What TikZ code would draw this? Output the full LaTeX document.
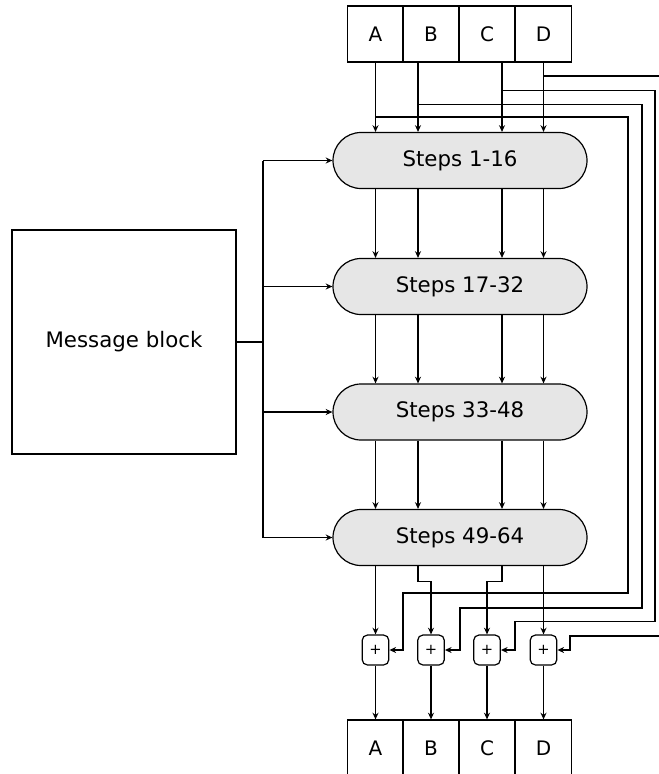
\documentclass[tikz,border=0pt]{standalone}
\usepackage{fontspec}
\setmainfont{DejaVu Sans}
\usepackage{xcolor}
\usepackage{tikz}
\usetikzlibrary{arrows}
\usetikzlibrary{arrows.meta}
\usetikzlibrary{positioning}
\usetikzlibrary{calc}

\definecolor{stepgray}{RGB}{230,230,230}

\tikzset{
  reg/.style={draw, line width=0.9pt, minimum width=42pt, minimum height=42pt, inner sep=0pt, font=\fontsize{15}{18}\selectfont},
  stepsbox/.style={draw, line width=0.9pt, fill=stepgray, rounded corners=21pt, minimum width=190.5pt, minimum height=42pt, font=\fontsize{16}{19}\selectfont},
  adder/.style={draw, line width=0.9pt, rounded corners=4pt, minimum width=20pt, minimum height=22.5pt, inner sep=0pt, font=\fontsize{11}{13}\selectfont},
  wire/.style={line width=0.9pt, -{Stealth[length=5pt,width=4.5pt]}},
}

\begin{document}
\begin{tikzpicture}[x=0.75pt, y=-0.75pt]
          \useasboundingbox (0,0) rectangle (658,774);

          % registers in
          \node[reg] (topA) at (375.5,34) {A};
          \node[reg] (topB) at (431,34) {B};
          \node[reg] (topC) at (487,34) {C};
          \node[reg] (topD) at (543.5,34) {D};

          % the four rounds
          \node[stepsbox] (s1) at (460,160.5) {Steps 1-16};
          \node[stepsbox] (s2) at (460,286.5) {Steps 17-32};
          \node[stepsbox] (s3) at (460,412) {Steps 33-48};
          \node[stepsbox] (s4) at (460,537.5) {Steps 49-64};

          \node[draw, line width=0.9pt, minimum width=168pt, minimum height=168pt, font=\fontsize{16}{19}\selectfont] (msg) at (124,342) {Message block};

          % adders
          \node[adder] (plusA) at (375.5,650) {+};
          \node[adder] (plusB) at (431,650) {+};
          \node[adder] (plusC) at (487,650) {+};
          \node[adder] (plusD) at (543.5,650) {+};

          % registers out
          \node[reg] (outA) at (375.5,748) {A};
          \node[reg] (outB) at (431,748) {B};
          \node[reg] (outC) at (487,748) {C};
          \node[reg] (outD) at (543.5,748) {D};

          \coordinate (colA) at (375.5,0);
          \coordinate (colB) at (418,0);
          \coordinate (colC) at (502,0);
          \coordinate (colD) at (543.5,0);

          % into the first round
          \draw[wire] (topA.south -| colA) -- (s1.north -| colA);
          \draw[wire] (topB.south -| colB) -- (s1.north -| colB);
          \draw[wire] (topC.south -| colC) -- (s1.north -| colC);
          \draw[wire] (topD.south -| colD) -- (s1.north -| colD);

          % round to round
          \draw[wire] (s1.south -| colA) -- (s2.north -| colA);
          \draw[wire] (s1.south -| colB) -- (s2.north -| colB);
          \draw[wire] (s1.south -| colC) -- (s2.north -| colC);
          \draw[wire] (s1.south -| colD) -- (s2.north -| colD);

          \draw[wire] (s2.south -| colA) -- (s3.north -| colA);
          \draw[wire] (s2.south -| colB) -- (s3.north -| colB);
          \draw[wire] (s2.south -| colC) -- (s3.north -| colC);
          \draw[wire] (s2.south -| colD) -- (s3.north -| colD);

          \draw[wire] (s3.south -| colA) -- (s4.north -| colA);
          \draw[wire] (s3.south -| colB) -- (s4.north -| colB);
          \draw[wire] (s3.south -| colC) -- (s4.north -| colC);
          \draw[wire] (s3.south -| colD) -- (s4.north -| colD);

          % last round to adders
          \draw[wire] (s4.south -| colA) -- (plusA);
          \draw[wire] (s4.south -| colB) -- ++(0,15) -| (plusB);
          \draw[wire] (s4.south -| colC) -- ++(0,15) -| (plusC);
          \draw[wire] (s4.south -| colD) -- (plusD);

          % feed forward
          \coordinate (fbA) at (375.5,117);
          \coordinate (fbB) at (418,104.7);
          \coordinate (fbC) at (502,90.7);
          \coordinate (fbD) at (543.5,76);
          \draw[wire] (fbA) -- (628,117) |- (403,593) |- (plusA);
          \draw[wire] (fbB) -- (642,104.7) |- (460,608) |- (plusB);
          \draw[wire] (fbC) -- (655,90.7) |- (515,621.7) |- (plusC);
          \draw[wire] (fbD) -- (668,76) |- (570,636) |- (plusD);

          % adders to registers
          \draw[wire] (plusA) -- (outA);
          \draw[wire] (plusB) -- (outB);
          \draw[wire] (plusC) -- (outC);
          \draw[wire] (plusD) -- (outD);

          % message bus
          \coordinate (bus1) at (263,160.5);
          \coordinate (bus2) at (263,286.5);
          \coordinate (bus3) at (263,412);
          \coordinate (bus4) at (263,537.5);
          \draw[line width=0.9pt] (bus1) -- (bus4);
          \draw[line width=0.9pt] (msg) -- (msg -| bus1);
          \draw[wire] (bus1) -- (s1);
          \draw[wire] (bus2) -- (s2);
          \draw[wire] (bus3) -- (s3);
          \draw[wire] (bus4) -- (s4);

    \end{tikzpicture}
\end{document}
